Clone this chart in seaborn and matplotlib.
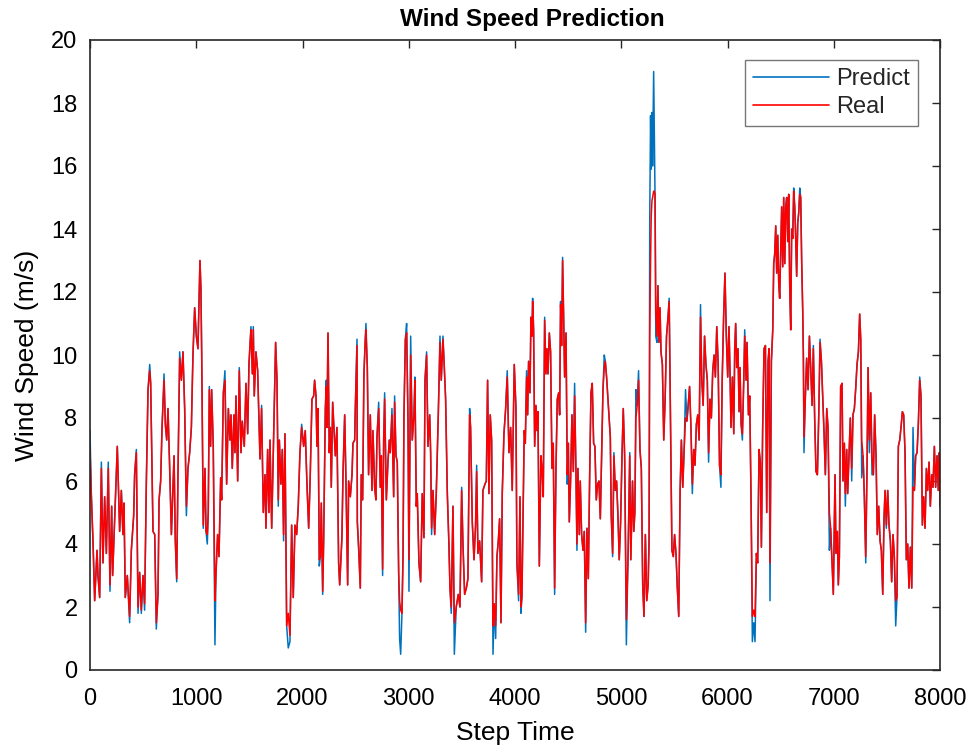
import numpy as np
import pandas as pd
import matplotlib
matplotlib.use("Agg")
import matplotlib.pyplot as plt
import seaborn as sns

# ---- data: (step, real wind speed) ----
real_points = [
    (0, 7.0), (12, 5.6), (28, 4.1), (44, 2.2), (66, 3.8), (75, 3.0), (91, 2.3), (107, 6.4),
    (122, 3.4), (138, 5.5), (154, 3.7), (172, 6.4), (188, 2.7), (204, 5.2), (213, 3.0),
    (226, 4.2), (257, 7.1), (279, 4.4), (295, 5.7), (310, 4.3), (320, 5.3), (332, 2.3),
    (351, 3.0), (373, 1.7), (389, 3.8), (411, 4.9), (420, 6.2), (436, 6.9), (452, 2.0),
    (467, 3.1), (483, 1.9), (499, 3.0), (514, 2.1), (530, 5.9), (546, 8.9), (562, 9.5),
    (571, 9.1), (593, 4.4), (609, 4.3), (624, 1.5), (640, 2.4), (650, 5.4), (665, 6.0),
    (678, 7.7), (697, 9.2), (709, 7.8), (722, 7.3), (734, 8.3), (750, 6.4), (766, 4.3),
    (781, 5.8), (791, 6.8), (803, 4.1), (816, 2.9), (828, 6.2), (844, 9.9), (860, 9.2),
    (875, 10.1), (891, 8.3), (907, 5.2), (922, 6.4), (938, 6.9), (954, 7.7), (969, 10.0),
    (985, 11.5), (1001, 10.6), (1016, 10.2),
    (1035, 13.0), (1044, 12.1), (1051, 10.1), (1066, 4.6), (1082, 6.4), (1092, 4.4),
    (1104, 4.3), (1113, 5.0), (1123, 8.9), (1135, 7.1), (1145, 8.9), (1160, 7.1),
    (1176, 2.2), (1186, 3.1), (1201, 4.3), (1214, 3.6), (1230, 6.1), (1239, 5.4),
    (1255, 8.8), (1270, 9.2), (1286, 5.9), (1302, 8.3), (1317, 7.3), (1327, 8.1),
    (1339, 6.4), (1355, 8.1), (1364, 6.9), (1374, 8.7), (1390, 6.0), (1405, 9.5),
    (1421, 6.9), (1433, 7.9), (1452, 7.1), (1468, 9.1), (1484, 7.5), (1496, 9.7),
    (1509, 10.5), (1515, 10.8), (1528, 9.4), (1537, 10.8), (1546, 8.7), (1562, 10.1),
    (1578, 9.5), (1600, 6.7), (1615, 8.3), (1631, 5.0), (1647, 6.2), (1656, 4.5),
    (1672, 7.0), (1684, 5.0), (1694, 7.3), (1710, 4.5), (1725, 6.9), (1747, 10.4),
    (1760, 9.2), (1772, 5.4), (1782, 7.3), (1797, 5.9), (1810, 7.0), (1822, 4.3),
    (1835, 7.5), (1851, 1.4), (1866, 1.8), (1882, 1.1), (1898, 4.6), (1913, 2.3),
    (1929, 4.6), (1945, 4.3), (1960, 5.2), (1976, 6.9), (1992, 7.7),
    (2011, 7.1), (2026, 7.6), (2042, 5.9), (2058, 4.5), (2073, 6.2), (2089, 8.6),
    (2105, 8.7), (2114, 9.2), (2127, 8.7), (2136, 7.1), (2146, 8.3), (2158, 3.5),
    (2168, 3.6), (2177, 5.3), (2190, 2.5), (2199, 4.1), (2215, 8.3), (2224, 9.0),
    (2230, 7.7), (2240, 10.7), (2252, 6.9), (2262, 7.7), (2271, 5.8), (2284, 8.5),
    (2296, 7.7), (2309, 6.8), (2324, 7.7), (2340, 3.4), (2350, 2.7), (2362, 3.6),
    (2371, 4.2), (2381, 6.2), (2397, 8.1), (2409, 6.0), (2425, 2.7), (2434, 6.0),
    (2450, 5.5), (2466, 6.2), (2475, 7.2), (2491, 7.3), (2497, 8.3), (2513, 10.3),
    (2516, 4.7), (2528, 3.9), (2544, 2.6), (2553, 6.2), (2566, 5.4), (2578, 9.4),
    (2591, 10.5), (2597, 10.8), (2610, 9.6), (2622, 6.2), (2638, 8.1), (2654, 5.7),
    (2663, 7.6), (2679, 5.8), (2691, 5.4), (2701, 7.4), (2717, 8.3), (2732, 5.8),
    (2742, 6.8), (2754, 3.2), (2764, 7.3), (2773, 8.6), (2789, 5.4), (2804, 6.6),
    (2817, 7.3), (2826, 6.9), (2842, 8.1), (2858, 5.5), (2867, 8.5), (2880, 6.8),
    (2892, 6.6), (2905, 3.1), (2914, 2.2), (2924, 1.9), (2936, 1.8), (2946, 3.6),
    (2955, 8.1), (2968, 10.5), (2980, 10.7), (2993, 7.9),
    (3002, 3.5), (3018, 10.0), (3033, 7.3), (3049, 8.1), (3058, 9.2), (3071, 5.2),
    (3080, 5.6), (3096, 3.4), (3112, 2.8), (3127, 5.6), (3143, 4.2), (3153, 9.2),
    (3168, 10.0), (3181, 7.1), (3197, 8.1), (3206, 6.9), (3215, 4.5), (3228, 5.7),
    (3244, 4.3), (3259, 5.6), (3278, 8.1), (3294, 10.4), (3306, 9.2), (3322, 10.5),
    (3335, 9.6), (3347, 8.6), (3363, 5.6), (3378, 4.0), (3388, 2.6), (3400, 2.0),
    (3416, 5.2), (3429, 1.5), (3447, 2.0), (3466, 2.4), (3482, 2.0), (3498, 5.7),
    (3510, 4.0), (3526, 2.4), (3542, 2.6), (3557, 2.9), (3573, 8.1), (3582, 7.7),
    (3598, 4.7), (3614, 3.5), (3629, 4.6), (3639, 6.3), (3651, 3.7), (3667, 4.1),
    (3686, 2.8), (3698, 5.7), (3717, 5.9), (3730, 6.0), (3742, 9.2), (3755, 5.6),
    (3767, 8.1), (3780, 7.3), (3793, 1.4), (3805, 2.1), (3818, 1.4), (3830, 3.6),
    (3843, 4.1), (3855, 4.8), (3868, 1.5), (3880, 5.6), (3896, 7.5), (3912, 8.3),
    (3927, 9.3), (3943, 6.9), (3959, 7.7), (3974, 5.7), (3993, 9.7),
    (4009, 8.3), (4018, 3.4), (4034, 2.4), (4047, 5.5), (4056, 2.0), (4065, 2.3),
    (4078, 5.5), (4087, 7.6), (4097, 7.2), (4109, 9.3), (4119, 8.1), (4128, 9.8),
    (4141, 8.8), (4150, 11.2), (4160, 10.6), (4166, 11.7), (4175, 10.8), (4185, 7.1),
    (4197, 8.4), (4207, 7.6), (4216, 8.2), (4229, 3.3), (4244, 6.8), (4254, 6.4),
    (4266, 5.5), (4279, 11.1), (4291, 9.4), (4301, 10.2), (4310, 9.4), (4323, 10.7),
    (4335, 10.1), (4348, 6.4), (4360, 7.2), (4373, 2.6), (4385, 6.3), (4398, 8.6),
    (4411, 8.8), (4420, 8.1), (4429, 11.6), (4439, 10.3), (4448, 13.0), (4458, 11.2),
    (4467, 9.3), (4480, 10.7), (4492, 6.2), (4502, 7.2), (4511, 4.7), (4523, 6.0),
    (4536, 8.1), (4549, 6.3), (4561, 8.7), (4574, 6.2), (4583, 4.0), (4592, 6.4),
    (4605, 4.3), (4614, 6.0), (4627, 4.3), (4640, 3.8), (4652, 4.4), (4665, 1.5),
    (4677, 4.5), (4690, 2.9), (4702, 6.0), (4715, 8.8), (4727, 9.1), (4740, 7.2),
    (4752, 7.1), (4765, 5.4), (4778, 5.9), (4790, 6.0), (4803, 4.8), (4815, 6.7),
    (4828, 8.9), (4840, 9.6), (4850, 9.8), (4862, 9.3), (4875, 8.6), (4884, 8.1),
    (4897, 7.4), (4906, 4.9), (4919, 3.7), (4931, 6.8), (4944, 5.7), (4956, 6.0),
    (4969, 4.9), (4981, 3.5), (4994, 4.7), (5007, 6.8), (5019, 8.3), (5032, 6.8),
    (5048, 1.6), (5064, 3.6), (5080, 6.8), (5090, 3.5), (5106, 6.0), (5118, 4.4),
    (5128, 5.0), (5138, 8.0), (5150, 8.4), (5163, 9.2), (5176, 7.0), (5189, 6.4),
    (5202, 2.7), (5214, 1.7), (5227, 4.3), (5240, 2.2), (5253, 2.7), (5262, 4.3),
    (5268, 10.5), (5276, 13.0), (5282, 14.4), (5289, 14.9), (5295, 15.0), (5305, 15.2),
    (5311, 15.2), (5318, 15.1), (5325, 11.4), (5336, 10.6), (5345, 12.2), (5355, 10.4),
    (5365, 11.5), (5374, 10.1), (5387, 9.7), (5400, 7.3), (5413, 8.6), (5426, 10.6),
    (5438, 11.1), (5451, 11.7), (5464, 7.8), (5477, 3.8), (5490, 3.6), (5502, 4.3),
    (5515, 3.7), (5528, 2.6), (5541, 1.7), (5554, 5.7), (5566, 7.3), (5579, 5.8),
    (5592, 7.0), (5605, 8.0), (5618, 7.9), (5630, 8.4), (5643, 9.0), (5656, 7.7),
    (5669, 5.9), (5682, 7.0), (5694, 6.5), (5707, 7.8), (5720, 8.1), (5733, 7.3),
    (5746, 11.2), (5758, 9.2), (5771, 8.4), (5784, 10.6), (5797, 9.7), (5810, 9.2),
    (5822, 6.9), (5835, 8.6), (5848, 8.0), (5861, 9.5), (5874, 10.0), (5886, 9.3),
    (5899, 10.9), (5912, 9.7), (5925, 6.5), (5938, 6.2), (5950, 9.2), (5963, 11.1),
    (5976, 12.6), (5989, 10.6), (6002, 9.3), (6014, 10.9),
    (6024, 9.4), (6033, 7.7), (6046, 9.3), (6059, 7.5), (6068, 10.2), (6077, 11.0),
    (6087, 9.6), (6099, 10.2), (6109, 8.2), (6118, 9.6), (6128, 7.8), (6140, 7.5),
    (6153, 9.2), (6162, 10.6), (6175, 9.2), (6184, 10.4), (6197, 8.1), (6209, 8.7),
    (6222, 5.3), (6234, 1.7), (6247, 1.9), (6259, 1.7), (6272, 3.7), (6284, 3.4),
    (6297, 7.0), (6309, 6.6), (6319, 3.9), (6331, 7.7), (6344, 10.2), (6357, 10.3),
    (6369, 5.0), (6382, 9.8), (6391, 10.2), (6400, 3.4), (6413, 9.8), (6426, 10.8),
    (6435, 12.9), (6444, 13.2), (6454, 14.1), (6463, 12.6), (6473, 13.8), (6482, 12.3),
    (6491, 11.8), (6501, 13.3), (6510, 14.7), (6520, 12.8), (6529, 15.0), (6539, 12.9),
    (6548, 14.7), (6557, 15.0), (6567, 13.6), (6576, 15.1), (6586, 12.1), (6595, 10.8),
    (6604, 14.0), (6614, 13.7), (6623, 15.2), (6633, 14.7), (6642, 13.7), (6651, 12.5),
    (6661, 14.2), (6670, 14.5), (6680, 15.1), (6689, 15.0), (6698, 13.0), (6708, 11.4),
    (6714, 10.0), (6720, 7.4), (6733, 8.7), (6745, 9.9), (6758, 8.9), (6771, 10.6),
    (6783, 9.6), (6796, 8.4), (6808, 10.2), (6821, 7.9), (6833, 6.3), (6846, 6.2),
    (6859, 8.1), (6871, 10.4), (6884, 9.8), (6896, 8.7), (6909, 7.5), (6921, 6.2),
    (6934, 8.3), (6946, 7.7), (6959, 5.0), (6971, 4.5), (6984, 3.4), (6996, 2.4),
    (7012, 6.2), (7021, 3.7), (7034, 4.4), (7043, 2.7), (7053, 3.6), (7065, 9.0),
    (7078, 9.1), (7087, 6.0), (7100, 7.2), (7109, 5.6), (7122, 7.0), (7131, 5.6),
    (7144, 6.8), (7156, 8.0), (7169, 6.4), (7181, 8.1), (7194, 8.3), (7206, 8.9),
    (7219, 9.7), (7232, 10.1), (7244, 11.3), (7254, 10.5), (7263, 7.3), (7276, 6.8),
    (7288, 5.5), (7301, 3.6), (7313, 6.4), (7323, 9.6), (7335, 7.3), (7348, 8.8),
    (7360, 6.8), (7373, 6.2), (7385, 8.1), (7398, 6.8), (7410, 4.3), (7423, 5.2),
    (7436, 4.1), (7448, 3.8), (7461, 2.4), (7473, 4.8), (7483, 5.7), (7495, 4.6),
    (7508, 5.7), (7520, 4.6), (7533, 4.1), (7545, 2.8), (7558, 4.3), (7570, 3.6),
    (7583, 2.2), (7595, 2.3), (7608, 7.1), (7621, 7.3), (7633, 7.7), (7646, 8.2),
    (7658, 8.1), (7671, 6.9), (7683, 3.5), (7696, 4.0), (7708, 2.6), (7721, 3.9),
    (7734, 2.6), (7746, 5.8), (7759, 5.7), (7771, 6.8), (7784, 6.9), (7796, 7.8),
    (7809, 9.2), (7821, 8.7), (7834, 4.6), (7846, 5.5), (7859, 4.5), (7872, 6.4),
    (7884, 5.7), (7897, 6.6), (7909, 5.2), (7922, 6.2), (7934, 5.8), (7947, 7.1),
    (7959, 5.8), (7972, 6.8), (7984, 5.7), (7994, 6.9), (8000, 5.2),
]

# steps where the predicted (blue) series visibly differs from the real one
predict_differs = {
    0: 7.6, 107: 6.6, 172: 6.6, 188: 2.5, 373: 1.5, 436: 7.0, 452: 1.8, 483: 1.8,
    514: 1.9, 562: 9.7, 624: 1.3, 697: 9.4, 816: 2.8, 844: 10.1, 907: 4.9,
    1066: 4.5, 1104: 4.0, 1123: 9.0, 1176: 0.8, 1270: 9.5, 1405: 9.6, 1515: 10.9,
    1537: 10.9, 1615: 8.4, 1772: 5.2, 1822: 4.1, 1866: 0.7, 1882: 0.9, 1992: 7.8,
    2158: 3.3, 2190: 2.4, 2224: 9.2, 2513: 10.5, 2597: 11.0, 2717: 8.5, 2754: 3.0,
    2773: 8.8, 2842: 8.3, 2867: 8.7, 2914: 1.0, 2924: 0.5, 2980: 11.0,
    3002: 2.5, 3018: 10.6, 3058: 9.3, 3168: 10.1, 3215: 4.3, 3294: 10.6, 3322: 10.6,
    3400: 1.8, 3429: 0.5, 3498: 5.8, 3573: 8.3, 3639: 6.5, 3793: 0.5, 3818: 1.0,
    3927: 9.5, 4034: 2.2, 4056: 1.8, 4109: 9.5, 4166: 11.8, 4279: 11.2, 4373: 2.4,
    4429: 11.7, 4448: 13.1, 4492: 5.9, 4561: 9.1, 4583: 3.8, 4665: 1.2, 4840: 10.0,
    4919: 3.6, 4931: 6.9, 5048: 0.8, 5080: 6.9, 5138: 8.9, 5163: 9.5, 5262: 4.0,
    5268: 14.3, 5276: 17.6, 5282: 15.9, 5289: 17.7, 5295: 16.0, 5305: 19.0,
    5311: 17.0, 5318: 15.0, 5325: 10.6, 5336: 10.4, 5451: 11.8, 5605: 8.9,
    5669: 5.6, 5746: 11.6, 5822: 6.6, 5938: 5.8, 5963: 11.2, 6140: 7.3, 6162: 10.8,
    6234: 0.9, 6247: 1.5, 6259: 0.9, 6400: 2.2, 6623: 15.3, 6680: 15.3, 6720: 6.9,
    6808: 10.3, 6871: 10.5, 6959: 3.8, 7109: 5.2, 7169: 6.0, 7263: 6.1, 7301: 3.4,
    7335: 6.9, 7360: 6.2, 7495: 4.5, 7583: 1.4, 7746: 7.7, 7809: 9.3,
}

step_time = [p[0] for p in real_points]
real_speed = [p[1] for p in real_points]
predict_speed = [predict_differs.get(s, v) for s, v in real_points]

x_ticks = list(range(0, 8001, 1000))
y_ticks = list(range(0, 21, 2))

df = pd.DataFrame({"Step": step_time, "Predict": predict_speed, "Real": real_speed})

# ---- style ----
sns.set_theme(style="white")
plt.rcParams["font.family"] = ["Liberation Sans", "DejaVu Sans"]
axis_color = "#262626"

fig = plt.figure(figsize=(9.73, 7.49), dpi=100)
ax = fig.add_axes([90 / 973, 1 - 670 / 749, 850 / 973, 630 / 749])

sns.lineplot(data=df, x="Step", y="Predict", ax=ax, color="#0072BD", linewidth=1.1,
             estimator=None, sort=False, label="Predict")
sns.lineplot(data=df, x="Step", y="Real", ax=ax, color="#FF0000", linewidth=1.1,
             estimator=None, sort=False, label="Real")

ax.set_xlim(0, 8000)
ax.set_ylim(0, 20)
ax.set_xticks(x_ticks)
ax.set_yticks(y_ticks)
ax.tick_params(axis="both", which="both", direction="in", length=6, width=1.0,
               colors=axis_color, labelcolor="#000000", labelsize=17,
               top=True, right=True)
ax.tick_params(axis="x", pad=13)
ax.tick_params(axis="y", pad=9)
for sp in ax.spines.values():
    sp.set_visible(True)
    sp.set_color(axis_color)
    sp.set_linewidth(1.2)

ax.set_xlabel("Step Time", fontsize=19, color="#000000")
ax.set_ylabel("Wind Speed (m/s)", fontsize=19, color="#000000")
ax.xaxis.set_label_coords(0.5, -0.081)
ax.yaxis.set_label_coords(-0.06, 0.5)
ax.set_title("Wind Speed Prediction", fontsize=17.5, fontweight="bold", color="#000000",
             pad=10, x=(532 - 90) / 850)

leg = ax.legend(loc="upper right", bbox_to_anchor=((918 - 90) / 850, (670 - 60) / 630),
                borderaxespad=0, fontsize=17, frameon=True, fancybox=False,
                borderpad=0.35, handlelength=3.2, handletextpad=0.3, labelspacing=0.25)
leg.get_frame().set_edgecolor("#555555")
leg.get_frame().set_linewidth(1.0)
for line in leg.get_lines():
    line.set_linewidth(1.2)

fig.savefig("out.png", dpi=100, facecolor="white")
